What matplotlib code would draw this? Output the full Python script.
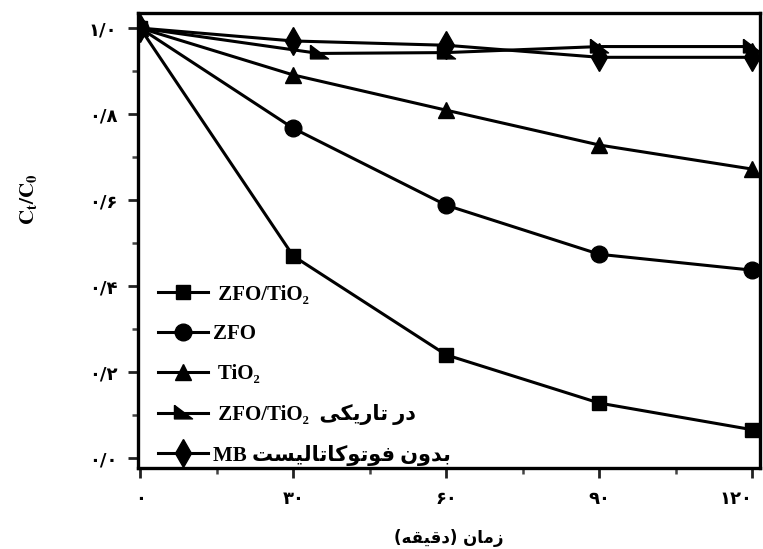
import matplotlib
matplotlib.use("Agg")
import matplotlib.pyplot as plt
from matplotlib.ticker import MultipleLocator

# photocatalytic degradation, C_t/C_0 vs time (min)
times = [0, 30, 60, 90, 120]
zfo_tio2 = [1.0, 0.470, 0.240, 0.128, 0.066]
zfo = [1.0, 0.767, 0.588, 0.474, 0.437]
tio2 = [1.0, 0.891, 0.809, 0.728, 0.672]
dark_times = [0, 35, 60, 90, 120]
dark = [1.0, 0.941, 0.943, 0.957, 0.957]
no_catalyst = [1.0, 0.970, 0.960, 0.932, 0.932]

x_ticks = [0, 30, 60, 90, 120]
x_tick_labels = ["۰", "۳۰", "۶۰", "۹۰", "۱۲۰"]
y_ticks = [0.0, 0.2, 0.4, 0.6, 0.8, 1.0]
y_tick_labels = ["۰/۰", "۰/۲", "۰/۴", "۰/۶", "۰/۸", "۱/۰"]

# arabic presentation forms: (isolated, final, initial, medial); None = no left join
FORMS = {
    "ا": ("\uFE8D", "\uFE8E", None, None),
    "ب": ("\uFE8F", "\uFE90", "\uFE91", "\uFE92"),
    "ت": ("\uFE95", "\uFE96", "\uFE97", "\uFE98"),
    "د": ("\uFEA9", "\uFEAA", None, None),
    "ر": ("\uFEAD", "\uFEAE", None, None),
    "ز": ("\uFEAF", "\uFEB0", None, None),
    "س": ("\uFEB1", "\uFEB2", "\uFEB3", "\uFEB4"),
    "ف": ("\uFED1", "\uFED2", "\uFED3", "\uFED4"),
    "ق": ("\uFED5", "\uFED6", "\uFED7", "\uFED8"),
    "ک": ("\uFB8E", "\uFB8F", "\uFB90", "\uFB91"),
    "ل": ("\uFEDD", "\uFEDE", "\uFEDF", "\uFEE0"),
    "م": ("\uFEE1", "\uFEE2", "\uFEE3", "\uFEE4"),
    "ن": ("\uFEE5", "\uFEE6", "\uFEE7", "\uFEE8"),
    "ه": ("\uFEE9", "\uFEEA", "\uFEEB", "\uFEEC"),
    "و": ("\uFEED", "\uFEEE", None, None),
    "ی": ("\uFBFC", "\uFBFD", "\uFBFE", "\uFBFF"),
}
MIRROR = {"(": ")", ")": "("}


def persian(text):
    """Shape persian text and return it in visual (left to right) order."""
    out = []
    for i, ch in enumerate(text):
        if ch not in FORMS:
            out.append(MIRROR.get(ch, ch))
            continue
        prev = text[i - 1] if i > 0 else ""
        nxt = text[i + 1] if i + 1 < len(text) else ""
        join_prev = prev in FORMS and FORMS[prev][2] is not None
        join_next = FORMS[ch][2] is not None and nxt in FORMS
        iso, fin, ini, med = FORMS[ch]
        if join_prev and join_next:
            out.append(med)
        elif join_prev:
            out.append(fin)
        elif join_next:
            out.append(ini)
        else:
            out.append(iso)
    return "".join(reversed(out))


labels = [
    " ZFO/TiO₂",
    "ZFO",
    " TiO₂",
    " ZFO/TiO₂  " + persian("در تاریکی"),
    "MB " + persian("بدون فوتوکاتالیست"),
]

plt.rcParams["mathtext.fontset"] = "stix"
fams = ["Liberation Serif", "DejaVu Sans"]

fig = plt.figure(figsize=(7.63, 5.49), dpi=100)
ax = fig.add_axes([0.181, 0.1475, 0.8152, 0.8288])

# right-angle triangle marker for the dark run
dark_marker = [(-1, 0.9), (-1, -0.6), (1, -0.6), (-1, 0.9)]

lw = 2.2
ax.plot(times, zfo_tio2, color="black", lw=lw, marker="s", ms=10.5, label=labels[0])
ax.plot(times, zfo, color="black", lw=lw, marker="o", ms=12, label=labels[1])
ax.plot(times, tio2, color="black", lw=lw, marker="^", ms=12, label=labels[2])
ax.plot(dark_times, dark, color="black", lw=lw, marker=dark_marker, ms=13, label=labels[3])
ax.plot(times, no_catalyst, color="black", lw=lw, marker="d", ms=14, label=labels[4])

ax.set_xlim(-0.4, 121.5)
ax.set_ylim(-0.023, 1.035)

ax.set_xticks(x_ticks)
ax.set_xticklabels(x_tick_labels, family="DejaVu Sans", fontweight="bold", fontsize=13)
ax.set_yticks(y_ticks)
ax.set_yticklabels(y_tick_labels, family="DejaVu Sans", fontweight="bold", fontsize=13)
ax.xaxis.set_minor_locator(MultipleLocator(15))
ax.yaxis.set_minor_locator(MultipleLocator(0.1))
ax.tick_params(which="major", direction="out", length=7, width=2, colors="#222222")
ax.tick_params(which="minor", direction="out", length=4, width=1.8, colors="#444444")
ax.tick_params(axis="y", which="major", pad=8, labelcolor="black")
ax.tick_params(axis="x", which="major", pad=9, labelcolor="black")

# last time label sits right at the figure edge
last = ax.get_xticklabels()[-1]
last.set_horizontalalignment("right")

for sp in ax.spines.values():
    sp.set_linewidth(2.4)

ax.set_ylabel(r"$\mathbf{C_t/C_0}$", fontsize=15)
ax.yaxis.set_label_coords(-0.16, 0.591)
ax.set_xlabel(persian("زمان (دقیقه)"), family="DejaVu Sans", fontweight="bold",
              fontsize=12, labelpad=15)

leg = ax.legend(loc="lower left", bbox_to_anchor=(0.025, -0.004), frameon=False,
                handlelength=2.4, handletextpad=0.25, labelspacing=0.95,
                borderpad=0.2, borderaxespad=0.0,
                prop={"family": fams, "weight": "bold", "size": 15})

fig.savefig("out.png", dpi=100)
